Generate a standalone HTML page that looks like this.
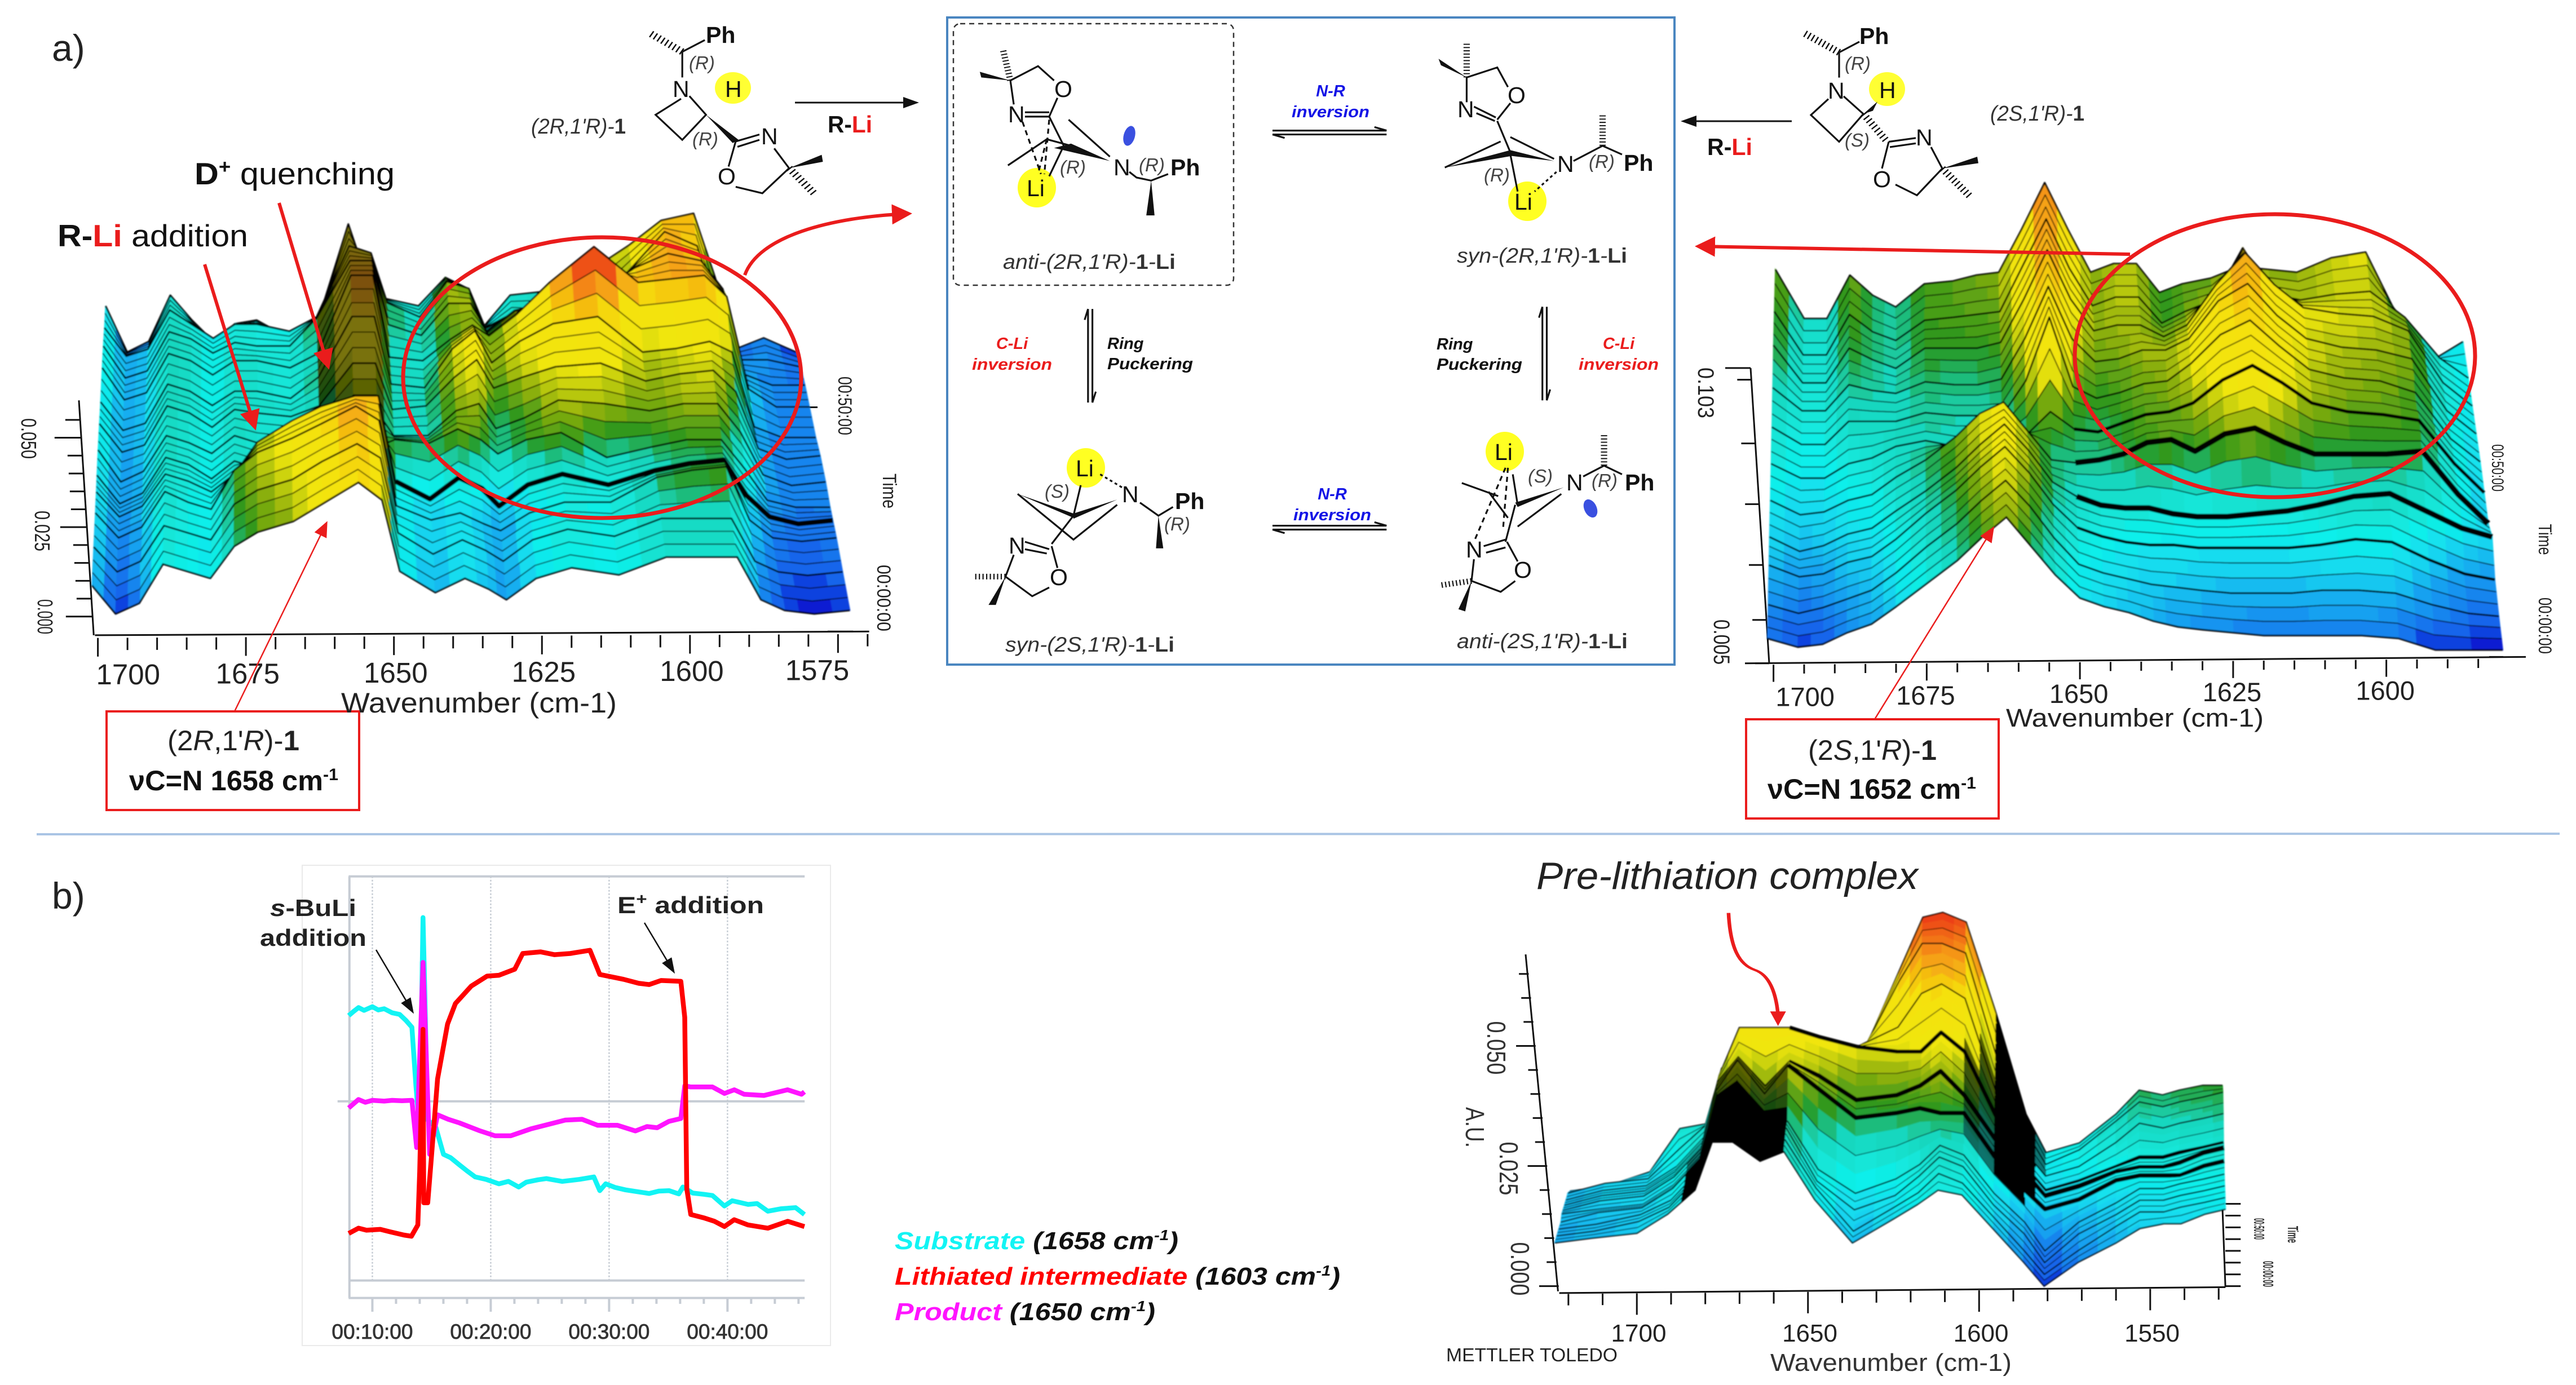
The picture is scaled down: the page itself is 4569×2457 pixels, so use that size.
<!DOCTYPE html>
<html lang="en">
<head>
<meta charset="utf-8">
<title>IR monitoring of azetidine lithiation</title>
<style>
html,body{margin:0;padding:0;background:#fff;}
svg{display:block;}
text{font-family:"Liberation Sans",sans-serif;}
.mb{fill:none;stroke:#111;stroke-width:3.2;vector-effect:non-scaling-stroke;}
.hash{fill:none;stroke:#111;stroke-width:13;stroke-dasharray:2.5 5;}
.wedge{fill:#111;stroke:none;}
.ar{font-size:41px;fill:#111;}
.ster{font-size:33px;font-style:italic;fill:#444;}
.cap{font-size:37px;font-style:italic;fill:#333;}
.tag{font-size:29px;font-weight:bold;font-style:italic;}
.lbl{font-size:54px;fill:#111;}
.tk{stroke:#111;stroke-width:3;}
</style>
</head>
<body>
<svg id="figure" xmlns="http://www.w3.org/2000/svg" width="4569" height="2457" viewBox="0 0 4569 2457">
<defs>
<filter id="soft" x="-5%" y="-5%" width="110%" height="110%"><feGaussianBlur stdDeviation="1"/></filter>
<marker id="redHead" markerWidth="7" markerHeight="7" refX="5" refY="3" orient="auto" markerUnits="strokeWidth"><path d="M0 0L6 3L0 6Z" fill="#ea1c1c"/></marker>
<marker id="thinHead" markerWidth="30" markerHeight="30" refX="24" refY="12" orient="auto" markerUnits="userSpaceOnUse"><path d="M0 0L28 12L0 24Z" fill="#ea1c1c"/></marker>
<marker id="blackHead" markerWidth="30" markerHeight="30" refX="24" refY="10" orient="auto" markerUnits="userSpaceOnUse"><path d="M0 0L28 10L0 20Z" fill="#111"/></marker>
</defs>
<rect width="4569" height="2457" fill="#fff"/>

<g id="axesA"></g>
<g id="axesB"></g>
<g id="axesC"></g>
<g id="surfaceA" filter="url(#soft)"></g>
<g id="surfaceB" filter="url(#soft)"></g>
<g id="surfaceC" filter="url(#soft)"></g>

<!-- panel labels -->
<text x="92" y="108" font-size="66" fill="#222">a)</text>
<text x="92" y="1612" font-size="66" fill="#222">b)</text>
<line x1="65" y1="1480" x2="4540" y2="1479" stroke="#a9c4e4" stroke-width="4"/>

<!-- chart A annotation -->
<text x="345" y="327" font-size="55" fill="#111" textLength="355" lengthAdjust="spacingAndGlyphs"><tspan font-weight="bold">D</tspan><tspan font-weight="bold" font-size="34" dy="-20">+</tspan><tspan dy="20"> quenching</tspan></text>
<text x="102" y="437" font-size="55" fill="#111" textLength="338" lengthAdjust="spacingAndGlyphs"><tspan font-weight="bold">R-</tspan><tspan font-weight="bold" fill="#ea1c1c">Li</tspan> addition</text>
<line x1="363" y1="469" x2="452" y2="758" stroke="#ea1c1c" stroke-width="6" marker-end="url(#redHead)"/>
<line x1="495" y1="360" x2="582" y2="650" stroke="#ea1c1c" stroke-width="6" marker-end="url(#redHead)"/>
<ellipse cx="1068" cy="670" rx="353" ry="249" fill="none" stroke="#ea1c1c" stroke-width="7"/>
<path d="M1321 488C1345 420 1470 385 1612 379" fill="none" stroke="#ea1c1c" stroke-width="6" marker-end="url(#redHead)"/>
<line x1="416" y1="1262" x2="579" y2="928" stroke="#ea1c1c" stroke-width="2.5" marker-end="url(#thinHead)"/>
<rect x="189" y="1262" width="448" height="175" fill="#fff" stroke="#ea1c1c" stroke-width="4"/>
<text x="297" y="1331" font-size="50" fill="#222" textLength="234" lengthAdjust="spacingAndGlyphs">(2<tspan font-style="italic">R</tspan>,1'<tspan font-style="italic">R</tspan>)-<tspan font-weight="bold">1</tspan></text>
<text x="229" y="1402" font-size="50" font-weight="bold" fill="#111" textLength="371" lengthAdjust="spacingAndGlyphs">νC=N 1658 cm<tspan font-size="30" dy="-18">-1</tspan></text>

<!-- chart B annotation -->
<ellipse cx="4035" cy="631" rx="355" ry="251" fill="none" stroke="#ea1c1c" stroke-width="7"/>
<line x1="3778" y1="451" x2="3012" y2="437" stroke="#ea1c1c" stroke-width="6" marker-end="url(#redHead)"/>
<line x1="3325" y1="1276" x2="3535" y2="937" stroke="#ea1c1c" stroke-width="2.5" marker-end="url(#thinHead)"/>
<rect x="3097" y="1276" width="448" height="176" fill="#fff" stroke="#ea1c1c" stroke-width="4"/>
<text x="3207" y="1348" font-size="50" fill="#222" textLength="228" lengthAdjust="spacingAndGlyphs">(2<tspan font-style="italic">S</tspan>,1'<tspan font-style="italic">R</tspan>)-<tspan font-weight="bold">1</tspan></text>
<text x="3135" y="1417" font-size="50" font-weight="bold" fill="#111" textLength="370" lengthAdjust="spacingAndGlyphs">νC=N 1652 cm<tspan font-size="30" dy="-18">-1</tspan></text>

<!-- y and time labels chart A -->
<g font-size="38" fill="#222">
<text transform="translate(38,778) rotate(90)" text-anchor="middle" textLength="72" lengthAdjust="spacingAndGlyphs">0.050</text>
<text transform="translate(62,942) rotate(90)" text-anchor="middle" textLength="72" lengthAdjust="spacingAndGlyphs">0.025</text>
<text transform="translate(67,1094) rotate(90)" text-anchor="middle" textLength="62" lengthAdjust="spacingAndGlyphs">0.000</text>
<text transform="translate(1487,720) rotate(90)" text-anchor="middle" textLength="104" lengthAdjust="spacingAndGlyphs" font-size="34">00:50:00</text>
<text transform="translate(1556,1061) rotate(90)" text-anchor="middle" textLength="118" lengthAdjust="spacingAndGlyphs" font-size="34">00:00:00</text>
<text transform="translate(1566,871) rotate(90)" text-anchor="middle" textLength="62" lengthAdjust="spacingAndGlyphs" font-size="34">Time</text>
</g>
<text x="605" y="1264" font-size="50" fill="#222" textLength="489" lengthAdjust="spacingAndGlyphs">Wavenumber (cm-1)</text>

<!-- y and time labels chart B -->
<g font-size="40" fill="#222">
<text transform="translate(3012,697) rotate(90)" text-anchor="middle" textLength="90" lengthAdjust="spacingAndGlyphs">0.103</text>
<text transform="translate(3040,1139) rotate(90)" text-anchor="middle" textLength="80" lengthAdjust="spacingAndGlyphs">0.005</text>
<text transform="translate(4420,830) rotate(90)" text-anchor="middle" textLength="84" lengthAdjust="spacingAndGlyphs" font-size="30">00:50:00</text>
<text transform="translate(4503,1110) rotate(90)" text-anchor="middle" textLength="100" lengthAdjust="spacingAndGlyphs" font-size="32">00:00:00</text>
<text transform="translate(4503,957) rotate(90)" text-anchor="middle" textLength="55" lengthAdjust="spacingAndGlyphs" font-size="32">Time</text>
</g>
<text x="3558" y="1289" font-size="45" fill="#222" textLength="457" lengthAdjust="spacingAndGlyphs">Wavenumber (cm-1)</text>

<!-- top molecules -->
<g>
<ellipse cx="1300" cy="156" rx="32" ry="28" fill="#ffff33"/>
<g transform="scale(1.0523,.947)">
<path class="mb" d="M1150 97L1188 75M1150 97V145M1148 185L1105 215L1150 262L1190 215L1162 180M1240 265L1228 312M1240 350L1285 362L1330 315L1305 278M1240 265L1280 252M1243 275L1280 262"/>
<path class="hash" d="M1150 97L1095 62M1330 315L1372 362"/>
<polygon class="wedge" points="1190,215 1245,262 1235,268"/><polygon class="wedge" points="1330,315 1385,290 1387,303"/>
</g>
<text class="ar" x="1252" y="76" font-weight="bold">Ph</text><text class="ar" x="1193" y="172">N</text><text class="ar" x="1286" y="172" fill="#111">H</text>
<text class="ar" x="1350" y="256">N</text><text class="ar" x="1273" y="327">O</text>
<text class="ster" x="1222" y="123">(R)</text><text class="ster" x="1228" y="258">(R)</text>
<text x="942" y="237" font-size="38" fill="#333" font-style="italic" textLength="168" lengthAdjust="spacingAndGlyphs">(2R,1'R)-<tspan font-weight="bold" font-style="normal">1</tspan></text>
<line x1="1410" y1="182" x2="1626" y2="182" stroke="#111" stroke-width="3" marker-end="url(#blackHead)"/>
<text x="1468" y="235" font-size="42" font-weight="bold" fill="#111" textLength="79" lengthAdjust="spacingAndGlyphs">R-<tspan fill="#ea1c1c">Li</tspan></text>
</g>
<g>
<ellipse cx="3347" cy="158" rx="32" ry="30" fill="#ffff33"/>
<g transform="translate(3000,0) scale(1,.949)">
<path class="mb" d="M262 98L298 78M262 98V145M243 185L212 215L262 265L305 213L270 180M350 265L338 315M362 345L400 365L445 315L425 275M350 265L398 258M352 275L398 268"/>
<path class="hash" d="M262 98L200 62M305 213L345 262M445 315L495 368"/>
<polygon class="wedge" points="305,213 330,190 322,207"/><polygon class="wedge" points="445,315 507,293 509,305"/>
</g>
<text class="ar" x="3298" y="78" font-weight="bold">Ph</text><text class="ar" x="3242" y="175">N</text><text class="ar" x="3333" y="174" fill="#1212dd">H</text>
<text class="ar" x="3398" y="258">N</text><text class="ar" x="3322" y="332">O</text>
<text class="ster" x="3272" y="124">(R)</text><text class="ster" x="3272" y="260">(S)</text>
<text x="3530" y="214" font-size="38" fill="#333" font-style="italic" textLength="167" lengthAdjust="spacingAndGlyphs">(2S,1'R)-<tspan font-weight="bold" font-style="normal">1</tspan></text>
<line x1="3178" y1="215" x2="2985" y2="215" stroke="#111" stroke-width="3" marker-end="url(#blackHead)"/>
<text x="3028" y="275" font-size="42" font-weight="bold" fill="#111" textLength="80" lengthAdjust="spacingAndGlyphs">R-<tspan fill="#ea1c1c">Li</tspan></text>
</g>

<!-- central scheme -->
<g>
<rect x="1680" y="31" width="1290" height="1148" fill="none" stroke="#4a86c0" stroke-width="4"/>
<rect x="1691" y="42" width="497" height="464" rx="12" fill="none" stroke="#333" stroke-width="2.5" stroke-dasharray="9 7"/>
<ellipse cx="1839" cy="333" rx="34" ry="35" fill="#ffff22"/>
<ellipse cx="2709" cy="357" rx="34" ry="35" fill="#ffff22"/>
<ellipse cx="1926" cy="830" rx="34" ry="35" fill="#ffff22"/>
<ellipse cx="2669" cy="801" rx="34" ry="35" fill="#ffff22"/>
<ellipse cx="2003" cy="241" rx="10" ry="18" fill="#3a50e0" transform="rotate(15 2003 241)"/>
<ellipse cx="2821" cy="902" rx="11" ry="17" fill="#3a50e0" transform="rotate(-25 2821 902)"/>
<g transform="translate(1650,0) scale(.861,.772)">
<path class="mb" d="M165 185L222 152L255 185M262 225L245 268M172 240L165 185M195 258H245M195 268H245M245 268L275 335M285 275L370 360M160 380L240 320L290 335M410 395L425 408L455 415L490 400M275 335L245 405"/>
<path class="mb" stroke-dasharray="9 7" d="M190 280L228 400M245 275L235 400M240 320L222 400"/>
<path class="hash" d="M165 185L150 115"/>
<polygon class="wedge" points="165,185 102,165 105,178"/><polygon class="wedge" points="255,340 370,370 290,330"/><polygon class="wedge" points="455,415 445,495 462,495"/>
<path class="mb" d="M1105 235V178L1168 155L1190 200M1195 237L1168 275M1120 245L1165 270M1125 260L1163 278M1168 278L1195 350M1060 385L1175 325M1195 315L1285 365M1195 355L1210 440M1325 370L1385 335L1425 355"/>
<path class="mb" stroke-dasharray="5 5" d="M1290 395L1245 440"/>
<path class="hash" d="M1105 178V100M1385 335V262"/>
<polygon class="wedge" points="1105,178 1047,135 1052,150"/><polygon class="wedge" points="1060,385 1195,345 1200,358"/><polygon class="wedge" points="1195,345 1285,370 1195,358"/>
<path class="mb" d="M180 1135L295 1240L385 1160M310 1115L295 1185M295 1185L250 1250M195 1245L245 1262M195 1262L240 1272M250 1255L262 1305M245 1350L210 1370L155 1325L172 1275M432 1155L470 1185L500 1165"/>
<path class="mb" stroke-dasharray="5 5" d="M350 1090L395 1120"/>
<path class="hash" d="M155 1325H90"/>
<polygon class="wedge" points="180,1135 295,1180 295,1190"/><polygon class="wedge" points="295,1180 385,1148 295,1192"/><polygon class="wedge" points="155,1325 120,1390 135,1390"/><polygon class="wedge" points="470,1185 465,1260 480,1260"/>
<path class="mb" d="M1095 1110L1170 1140M1200 1090L1210 1160M1210 1210L1300 1135M1150 1130L1190 1190M1205 1160L1185 1245M1140 1255L1185 1240M1145 1270L1185 1258M1188 1245L1210 1290M1205 1335L1175 1360L1115 1335L1120 1285M1345 1095L1388 1070L1425 1090"/>
<path class="mb" stroke-dasharray="9 7" d="M1185 1075L1120 1245M1190 1075L1180 1215"/>
<path class="hash" d="M1115 1335L1050 1345M1388 1070V995"/>
<polygon class="wedge" points="1205,1155 1305,1120 1210,1165"/><polygon class="wedge" points="1115,1335 1088,1400 1102,1405"/>
<path class="mb" d="M705 300H940M940 300L915 292M705 309H940M705 309L730 317M705 1208H940M940 1208L915 1200M705 1217H940M705 1217L730 1225M325 710V925M325 710L318 735M334 710V925M334 925L341 900M1261 705V920M1261 705L1254 730M1270 705V920M1270 920L1277 895"/>
</g>
<text class="ar" x="1788" y="217">N</text><text class="ar" x="1870" y="172">O</text><text class="ar" x="1975" y="311">N</text><text class="ar" x="2076" y="311" font-weight="bold">Ph</text>
<text class="ar" x="2585" y="208">N</text><text class="ar" x="2674" y="183">O</text><text class="ar" x="2762" y="305">N</text><text class="ar" x="2880" y="303" font-weight="bold">Ph</text>
<text class="ar" x="1990" y="891">N</text><text class="ar" x="2084" y="903" font-weight="bold">Ph</text><text class="ar" x="1789" y="982">N</text><text class="ar" x="1862" y="1038">O</text>
<text class="ar" x="2778" y="870">N</text><text class="ar" x="2882" y="870" font-weight="bold">Ph</text><text class="ar" x="2600" y="989">N</text><text class="ar" x="2685" y="1025">O</text>
<text class="ster" x="1880" y="308">(R)</text><text class="ster" x="2020" y="304">(R)</text><text class="ster" x="2818" y="298">(R)</text><text class="ster" x="2632" y="322">(R)</text>
<text class="ster" x="1853" y="883">(S)</text><text class="ster" x="2065" y="941">(R)</text><text class="ster" x="2710" y="856">(S)</text><text class="ster" x="2823" y="864">(R)</text>
<text class="ar" x="1821" y="348" fill="#ea1c1c">Li</text><text class="ar" x="2686" y="372" fill="#ea1c1c">Li</text><text class="ar" x="1908" y="845" fill="#ea1c1c">Li</text><text class="ar" x="2651" y="816" fill="#ea1c1c">Li</text>
<text class="cap" x="1779" y="477" textLength="306" lengthAdjust="spacingAndGlyphs">anti-(2R,1'R)-<tspan font-weight="bold" font-style="normal">1</tspan>-<tspan font-weight="bold" font-style="normal">Li</tspan></text>
<text class="cap" x="2584" y="466" textLength="302" lengthAdjust="spacingAndGlyphs">syn-(2R,1'R)-<tspan font-weight="bold" font-style="normal">1</tspan>-<tspan font-weight="bold" font-style="normal">Li</tspan></text>
<text class="cap" x="1783" y="1156" textLength="300" lengthAdjust="spacingAndGlyphs">syn-(2S,1'R)-<tspan font-weight="bold" font-style="normal">1</tspan>-<tspan font-weight="bold" font-style="normal">Li</tspan></text>
<text class="cap" x="2584" y="1150" textLength="303" lengthAdjust="spacingAndGlyphs">anti-(2S,1'R)-<tspan font-weight="bold" font-style="normal">1</tspan>-<tspan font-weight="bold" font-style="normal">Li</tspan></text>
<g fill="#1414e6" text-anchor="middle">
<text class="tag" x="2360" y="171">N-R</text><text class="tag" x="2360" y="208" textLength="138" lengthAdjust="spacingAndGlyphs">inversion</text>
<text class="tag" x="2363" y="886">N-R</text><text class="tag" x="2363" y="923" textLength="138" lengthAdjust="spacingAndGlyphs">inversion</text>
</g>
<g fill="#ea1c1c" text-anchor="middle">
<text class="tag" x="1795" y="619">C-Li</text><text class="tag" x="1795" y="656" textLength="142" lengthAdjust="spacingAndGlyphs">inversion</text>
<text class="tag" x="2871" y="619">C-Li</text><text class="tag" x="2871" y="656" textLength="142" lengthAdjust="spacingAndGlyphs">inversion</text>
</g>
<g fill="#111">
<text class="tag" x="1964" y="619">Ring</text><text class="tag" x="1964" y="655" textLength="152" lengthAdjust="spacingAndGlyphs">Puckering</text>
<text class="tag" x="2548" y="620">Ring</text><text class="tag" x="2548" y="656" textLength="152" lengthAdjust="spacingAndGlyphs">Puckering</text>
</g>
</g>

<!-- kinetics panel -->
<rect x="536" y="1535" width="937" height="852" fill="#fff" stroke="#eaeaea" stroke-width="2"/>
<g id="kinetics"></g>
<text x="479" y="1625" font-size="42" font-weight="bold" fill="#222" textLength="153" lengthAdjust="spacingAndGlyphs"><tspan font-style="italic">s</tspan>-BuLi</text>
<text x="461" y="1678" font-size="42" font-weight="bold" fill="#222" textLength="189" lengthAdjust="spacingAndGlyphs">addition</text>
<text x="1095" y="1620" font-size="42" font-weight="bold" fill="#222" textLength="260" lengthAdjust="spacingAndGlyphs">E<tspan font-size="28" dy="-16">+</tspan><tspan dy="16"> addition</tspan></text>
<line x1="667" y1="1685" x2="732" y2="1795" stroke="#111" stroke-width="2.5" marker-end="url(#blackHead)"/>
<line x1="1143" y1="1637" x2="1195" y2="1724" stroke="#111" stroke-width="2.5" marker-end="url(#blackHead)"/>

<!-- legend -->
<g font-size="44" font-weight="bold" font-style="italic" fill="#111">
<text x="1587" y="2216" textLength="503" lengthAdjust="spacingAndGlyphs"><tspan fill="#12f4f4">Substrate</tspan> (1658 cm<tspan font-size="26" dy="-16">-1</tspan><tspan dy="16">)</tspan></text>
<text x="1587" y="2279" textLength="790" lengthAdjust="spacingAndGlyphs"><tspan fill="#ff0000">Lithiated intermediate</tspan> (1603 cm<tspan font-size="26" dy="-16">-1</tspan><tspan dy="16">)</tspan></text>
<text x="1587" y="2342" textLength="462" lengthAdjust="spacingAndGlyphs"><tspan fill="#ff14ff">Product</tspan> (1650 cm<tspan font-size="26" dy="-16">-1</tspan><tspan dy="16">)</tspan></text>
</g>

<!-- chart C text -->
<text x="2725" y="1577" font-size="68" font-style="italic" fill="#222" textLength="677" lengthAdjust="spacingAndGlyphs">Pre-lithiation complex</text>
<g transform="translate(2500,1500) scale(1.084,.613)">
<path d="M522 195C525 300 540 345 565 360C590 375 600 430 603 490" fill="none" stroke="#ea1c1c" stroke-width="6"/>
<polygon points="590,480 616,480 603,522" fill="#ea1c1c"/>
</g>
<g font-size="46" fill="#333">
<text transform="translate(2638,1859) rotate(90)" text-anchor="middle" textLength="95" lengthAdjust="spacingAndGlyphs">0.050</text>
<text transform="translate(2660,2073) rotate(90)" text-anchor="middle" textLength="95" lengthAdjust="spacingAndGlyphs">0.025</text>
<text transform="translate(2680,2251) rotate(90)" text-anchor="middle" textLength="95" lengthAdjust="spacingAndGlyphs">0.000</text>
<text transform="translate(2600,2000) rotate(90)" text-anchor="middle" textLength="72" lengthAdjust="spacingAndGlyphs">A.U.</text>
<text transform="translate(3998,2180) rotate(90)" text-anchor="middle" textLength="38" lengthAdjust="spacingAndGlyphs" font-size="26" font-weight="bold">00:50:00</text>
<text transform="translate(4014,2260) rotate(90)" text-anchor="middle" textLength="46" lengthAdjust="spacingAndGlyphs" font-size="26" font-weight="bold">00:00:00</text>
<text transform="translate(4058,2190) rotate(90)" text-anchor="middle" textLength="30" lengthAdjust="spacingAndGlyphs" font-size="26" font-weight="bold">Time</text>
</g>
<text x="2565" y="2415" font-size="33" fill="#222" textLength="304" lengthAdjust="spacingAndGlyphs">METTLER TOLEDO</text>
<text x="3140" y="2432" font-size="44" fill="#333" textLength="428" lengthAdjust="spacingAndGlyphs">Wavenumber (cm-1)</text>
</svg>

<script>
// ---------- chart data (absorbance in mAU, time in minutes, wavenumber in cm-1) ----------
const surfaceAWavenumbers=[1701,1697,1693,1689,1685,1681,1677,1673,1667,1662,1656,1652,1649,1643,1638,1634,1631,1626,1620,1612,1604,1598,1592,1588,1584,1579,1573];
const surfaceATimes=[0,8,15,19,22,27,33,38,45,50,55,60];
const surfaceAValues=[
[8,0,3,14,12,10,19,23,26,31,37,32,12,6,10,7,4,10,13,11,16,16,16,4,1,0,1],
[9,2,5,15,13,11,21,25,28,33,38,34,13,7,11,8,5,11,14,12,17,17,17,5,2,1,2],
[10,3,6,16,13,11,22,27,31,35,40,36,12,8,10,7,5,10,13,13,20,22,23,8,3,2,3],
[11,4,7,16,14,11,16,25,31,35,38,38,14,9,15,12,7,13,16,13,17,19,20,10,4,2,3],
[12,4,7,17,15,11,16,14,13,14,20,20,22,21,25,22,18,22,24,17,20,22,22,14,5,3,3],
[13,4,7,17,15,12,17,15,14,15,24,24,17,17,24,26,19,22,27,26,24,26,26,18,6,3,4],
[13,5,7,18,16,12,17,16,15,18,30,30,17,18,26,31,23,26,29,30,25,27,28,22,6,3,4],
[13,5,7,18,16,12,16,16,14,20,37,37,18,17,28,33,24,30,35,37,27,28,30,27,6,3,3],
[14,5,7,18,16,12,16,16,14,18,40,40,17,16,22,26,23,29,38,48,38,39,40,34,8,3,3],
[14,5,7,18,16,12,15,14,14,22,38,38,20,17,26,26,18,24,26,28,36,40,38,30,6,3,3],
[13,5,7,18,14,10,14,14,12,16,36,34,20,16,26,24,13,17,16,17,30,40,36,16,4,4,2],
[13,0,3,16,9,3,8,9,4,7,36,18,15,13,21,18,7,16,17,22,30,37,39,21,1,4,0]];
const surfaceAXTicks=[1700,1675,1650,1625,1600,1575];
const surfaceAXTickLabels=['1700','1675','1650','1625','1600','1575'];
const surfaceAYTicks=[0,5,10,15,20,25,30,35,40,45,50,55];
const surfaceATimeTicks=[0,10,20,30,40,50];

const surfaceBWavenumbers=[1701,1696,1692,1688,1684,1680,1675,1670,1666,1662,1658,1654,1650,1646,1642,1638,1634,1630,1625,1620,1615,1610,1604,1598,1592,1586,1581];
const surfaceBTimes=[0,6,12,16,22,28,34,40,46,52,60];
const surfaceBValues=[
[4,1,2,6,9,15,23,31,39,46,36,26,18,15,13,10,8,7,6,5,5,5,5,4,0,0,0],
[7,4,6,9,12,18,27,35,43,50,41,30,21,18,16,14,13,12,11,11,11,12,12,11,7,4,3],
[12,8,9,13,15,21,30,38,46,53,44,33,25,22,20,19,19,18,18,18,18,19,21,20,14,9,7],
[16,11,13,17,19,25,32,40,48,55,46,35,30,27,26,26,24,23,23,24,25,27,30,31,25,19,16],
[20,15,16,20,22,28,34,42,50,54,44,34,33,34,36,40,41,37,43,45,40,36,36,36,37,22,12],
[24,19,19,24,26,30,32,30,30,30,34,42,36,35,38,41,42,45,53,58,52,45,42,41,39,24,14],
[28,22,22,30,30,30,33,32,32,32,44,66,42,38,40,43,44,50,60,65,56,48,45,44,40,24,16],
[33,25,25,34,32,31,35,34,34,36,50,68,50,42,43,46,46,50,63,69,58,50,47,46,43,25,17],
[39,26,26,38,34,31,38,38,38,40,55,72,55,44,46,46,42,46,60,71,60,52,50,49,44,26,18],
[42,27,27,41,35,32,39,40,41,42,58,74,57,44,47,47,38,42,46,64,48,46,48,49,40,26,19],
[45,28,28,43,36,32,40,41,43,44,59,75,59,44,47,47,37,40,42,46,45,44,49,51,27,14,20]];
const surfaceBXTicks=[1700,1675,1650,1625,1600];
const surfaceBXTickLabels=['1700','1675','1650','1625','1600'];
const surfaceBYTicks=[103,81,60,39,20,5];
const surfaceBTimeTicks=[0,10,20,30,40,50,60];

const surfaceCWavenumbers=[1724,1713,1700,1691,1683,1678,1672,1664,1657,1648,1637,1625,1618,1612,1605,1596,1587,1581,1571,1560,1553,1546,1541,1534,1528];
const surfaceCTimes=[0,8,16,24,28,32,38,44,52,60];
const surfaceCValues=[
[9,10,11,15,20,30,30,26,28,18,9,14,17,20,19,12,5,0,5,9,12,13,13,15,16],
[9,10,12,15,21,31,34,29,29,19,10,15,18,22,20,13,6,1,6,11,14,14,15,16,17],
[9,10,12,15,21,33,36,30,30,19,13,16,20,24,22,14,8,2,8,12,15,15,16,17,18],
[9,11,12,16,22,35,37,31,30,20,15,18,21,25,23,15,9,3,9,13,16,16,17,18,19],
[10,11,12,16,22,36,42,35,41,36,30,31,32,31,31,22,15,11,13,17,18,18,18,20,21],
[10,12,13,17,23,37,42,36,41,38,33,34,36,39,34,25,18,13,15,18,19,19,20,22,23],
[10,12,13,17,23,37,47,47,47,45,43,42,42,46,42,29,18,13,15,18,20,20,21,22,23],
[10,12,13,17,23,36,42,40,40,40,42,46,53,55,52,33,20,15,17,22,26,25,26,27,28],
[10,12,13,19,24,36,40,38,38,38,38,54,62,62,60,39,23,16,19,25,29,28,29,30,31],
[9,10,13,22,23,32,38,36,36,36,36,55,66,67,65,46,25,17,19,25,30,29,30,31,31]];
const surfaceCXTicks=[1700,1650,1600,1550];
const surfaceCXTickLabels=['1700','1650','1600','1550'];
const surfaceCYTicks=[0,5,10,15,20,25,30,35,40,45,50,55,60,65];
const surfaceCTimeTicks=[0,5,10,15,20,25,30,35];

const kineticsTickMinutes=[10,20,30,40];
const kineticsTickLabels=['00:10:00','00:20:00','00:30:00','00:40:00'];
const substrateTimes=[8,8.4,8.83,9.3,10,10.5,11,11.67,12.3,12.84,13.34,13.68,14.0,14.28,14.68,15.35,16.01,16.6,17.35,18,18.69,19.6,20.69,21.5,22.36,23,24,24.7,26.04,27.5,28.71,29.21,29.71,30.5,31.38,32.5,33.39,34.2,35.06,35.89,36.23,37.06,38,38.73,39.74,40.4,41,41.74,42.5,43.41,44.5,45.75,46.5];
const substrateValues=[65.5,66.5,67.5,66.8,67.7,66.9,67.2,66.2,65.8,64.3,62.6,48.1,37,89.8,39.6,37.9,31.1,30.3,28.5,27,25.5,24.9,23.8,24.4,23,24.2,24.8,25.1,24.4,24.9,25.5,22.1,23.8,22.9,22.3,21.8,21.4,22,22.1,21.3,23,21.5,21.2,20.9,18.3,19.6,19.2,18.7,18.9,17,17.6,17.9,16.2];
const productTimes=[8,8.83,9.4,10,11,11.67,12.5,13.34,13.74,14.28,14.84,15.51,16.4,17.35,19.02,20.36,21.69,23.36,25.37,26.3,27.71,29.04,30.71,32.22,33.2,34.06,35.06,36.06,36.39,36.9,38.73,39.74,40.57,41.41,43.08,45.08,46.25,46.5];
const productValues=[42.6,44.7,44,44.5,44.3,44.5,44.4,44.5,32.8,78.7,31.1,40.9,39.8,38.9,37,35.7,35.7,37.4,38.9,39.6,39.8,38.3,38.3,36.9,38,37.7,39.3,40,48.1,47.8,47.8,46.2,47.1,46,45.7,47.1,46,46.6];
const intermediateTimes=[8,8.83,9.5,10.67,11.5,12.67,13.3,13.84,14,14.28,14.34,14.68,15.01,15.51,16.35,17.02,18.35,19.69,20.69,22.03,22.7,24.2,25.37,26.71,28.38,29.21,31.22,32.5,33.39,34.39,36.06,36.39,36.56,36.9,38.07,38.9,39.74,40.57,41.74,43.41,45.08,46.5];
const intermediateValues=[11.5,12.8,12.3,12.5,11.9,11.1,10.8,13.6,26.8,62.1,19.1,19.1,31.1,49.8,63.4,68.5,72.8,75.3,75.5,77,80.9,81.3,80.6,80.9,81.7,75.7,74.5,73.5,73.2,74.2,74,65.1,22.6,16.2,15.3,14.5,13.2,14.9,13.6,12.8,14.5,13.2];

// ---------- rendering ----------
const NS='http://www.w3.org/2000/svg';
const lerp=(a,b,f)=>a+(b-a)*f;
const colorStops=[[0,10,30,210],[.03,20,100,235],[.08,25,150,240],[.16,20,215,240],[.22,15,240,235],[.33,25,215,190],[.4,40,150,30],[.47,140,175,10],[.54,240,230,15],[.66,245,225,15],[.76,245,140,20],[.84,235,50,20],[1,210,10,10]];
function colorOf(u,dark){
  u=Math.max(0,Math.min(1,Math.round(u*64)/64));
  let k=0;
  while(k<colorStops.length-2&&u>colorStops[k+1][0])k++;
  const p=colorStops[k],q=colorStops[k+1],f=(u-p[0])/(q[0]-p[0]);
  const d=1-Math.round((dark||0)*4)/4;
  return 'rgb('+[1,2,3].map(c=>Math.round(lerp(p[c],q[c],f)*d)).join(',')+')';
}
function drawSurface(cfg){
  const g=document.getElementById(cfg.id),wns=cfg.wns,times=cfg.times,vals=cfg.vals;
  const sub=cfg.sub||4,subx=2,every=cfg.every||1;
  const val=(i,fi,j,fj)=>lerp(lerp(vals[i][j],vals[i][j+1],fj),lerp(vals[i+1][j],vals[i+1][j+1],fj),fi);
  const pt=(i,fi,j,fj)=>{
    const wn=lerp(wns[j],wns[j+1],fj),t=lerp(times[i],times[i+1],fi),a=val(i,fi,j,fj);
    return [cfg.X(wn,t),cfg.Y(a,t),a,wn,t];
  };
  const addLine=(i,f,w,range)=>{
    let d='',started=false;
    for(let j=0;j<wns.length;j++){
      if(range&&wns[j]>range[0])continue;
      const p=j<wns.length-1?pt(i,f,j,0):pt(i,f,j-1,1);
      d+=(started?'L':'M')+p[0].toFixed(1)+' '+p[1].toFixed(1);
      started=true;
    }
    const line=document.createElementNS(NS,'path');
    line.setAttribute('d',d);
    line.setAttribute('fill','none');
    line.setAttribute('stroke','#050505');
    line.setAttribute('stroke-width',w);
    line.setAttribute('stroke-linejoin','round');
    
    
    g.appendChild(line);
  };
  for(let i=times.length-2;i>=0;i--){
    for(let s=sub-1;s>=0;s--){
      const f0=s/sub,f1=(s+1)/sub,buckets={};
      for(let j=0;j<wns.length-1;j++){
        for(let m=0;m<subx;m++){
          const a=pt(i,f0,j,m/subx),b=pt(i,f0,j,(m+1)/subx),c=pt(i,f1,j,(m+1)/subx),e=pt(i,f1,j,m/subx);
          const mean=(a[2]+b[2]+c[2]+e[2])/4;
          const dark=cfg.shade?cfg.shade((a[3]+b[3])/2,(a[4]+e[4])/2,mean):0;
          const col=colorOf(mean/cfg.scale,dark);
          buckets[col]=(buckets[col]||'')+'M'+[a,b,c,e].map(p=>p[0].toFixed(1)+' '+p[1].toFixed(1)).join('L')+'Z';
        }
      }
      for(const col in buckets){
        const cell=document.createElementNS(NS,'path');
        cell.setAttribute('d',buckets[col]);
        cell.setAttribute('fill',col);
        cell.setAttribute('stroke',col);
        cell.setAttribute('stroke-width','1.6');
        
        
        g.appendChild(cell);
      }
      if(s===sub-1){
        addLine(i,1,cfg.base||3);
        if(cfg.thick[i+1])addLine(i,1,cfg.thick[i+1],cfg.thickRange);
      }else if((s+1)%every===0){
        addLine(i,f1,cfg.mesh||1.8);
      }
    }
  }
  addLine(0,0,cfg.base||3);
}
function tickLine(g,x1,y1,x2,y2,name){
  const l=document.createElementNS(NS,'line');
  l.setAttribute('x1',x1);l.setAttribute('y1',y1);l.setAttribute('x2',x2);l.setAttribute('y2',y2);
  l.setAttribute('class','tk');
  
  
  g.appendChild(l);
}
function tickText(g,x,y,str,size){
  const t=document.createElementNS(NS,'text');
  t.setAttribute('x',x);t.setAttribute('y',y);t.setAttribute('font-size',size);
  t.setAttribute('text-anchor','middle');t.setAttribute('fill','#222');
  t.textContent=str;
  
  
  g.appendChild(t);
}

// Chart A scales (defined in reference-crop coordinates)
const ASX=1.0523,ASY=.947;
const aFront=wn=>155+(1701-wn)*9.98;
const aX=(wn,t)=>ASX*lerp(aFront(wn),178+.911*(aFront(wn)-155),t/60);
const aY=(a,t)=>ASY*(1150-8.17*t-a/.15);
const aShade=(wn,t)=>(wn<1662&&wn>1650&&t>24)?.5:0;
drawSurface({id:'surfaceA',wns:surfaceAWavenumbers,times:surfaceATimes,vals:surfaceAValues,X:aX,Y:aY,scale:54,sub:3,thick:{3:9},thickRange:[1650,1600],shade:aShade});

// Chart B scales
const bFront=wn=>138+(1700.7-wn)*10.87;
const bX=(wn,t)=>3000+lerp(bFront(wn),152+.935*(bFront(wn)-138),t/60);
const bY=(a,t)=>.949*(1215-7.8*t-a*5.405);
drawSurface({id:'surfaceB',wns:surfaceBWavenumbers,times:surfaceBTimes,vals:surfaceBValues,X:bX,Y:bY,scale:95,sub:3,thick:{2:5,3:10,4:10,5:6},thickRange:[1650,1500]});

// Chart C scales
const cFront=wn=>372+(1700-wn)*5.6;
const cX=(wn,t)=>{const x=cFront(wn),f=(x-240)/1095;return 2500+1.084*(x+(25-30*f)*t/60);};
const cY=(a,t)=>1500+.613*(1275-2.5*t-a*13.9);
const cShade=(wn,t,a)=>{
  if(wn<1686&&wn>1658){if(t<25)return 1;if(t<32)return .5;}
  if(wn<1598&&wn>1584&&t>26&&a>14&&a<44)return .95;
  if(wn<1604&&wn>1580&&t>26&&a>16&&a<40)return .5;
  return 0;
};
drawSurface({id:'surfaceC',wns:surfaceCWavenumbers,times:surfaceCTimes,vals:surfaceCValues,X:cX,Y:cY,scale:80,sub:4,every:2,mesh:1.4,base:2.4,thick:{4:8,5:8,6:7},thickRange:[1660,1500],shade:cShade});

// Axes chart A
(function(){
  const g=document.getElementById('axesA');
  const line=(zx1,zy1,zx2,zy2,n)=>tickLine(g,ASX*zx1,ASY*zy1,ASX*zx2,ASY*zy2,n);
  const baseY=zx=>1190-7*(zx-160)/1260;
  line(160,1190,1465,1183,'x-axis-line');
  line(133,750,158,1190,'y-axis-line');
  for(let wn=1700;wn>=1570;wn-=5){
    const zx=aFront(wn);
    line(zx,baseY(zx)+5,zx,baseY(zx)+(surfaceAXTicks.includes(wn)?40:28),'x-tick');
  }
  surfaceAXTicks.forEach((wn,i)=>{
    const zx=aFront(wn),nudge=i===0?51:(i===surfaceAXTicks.length-1?-35:3);
    tickText(g,ASX*(zx+nudge),ASY*(1282-8*i/5),surfaceAXTickLabels[i],51);
  });
  surfaceAYTicks.forEach(v=>{
    const zy=1155-6.7*v,ax=133+(zy-750)/440*25;
    line(ax-(v%25===0?45:25),zy,ax,zy,'y-tick');
  });
  surfaceATimeTicks.forEach(t=>{
    const zy=1183-8.4*t,zx=1420-1.2*t;
    line(zx-25,zy,zx+(t%50===0?18:0),zy,'time-tick');
  });
})();

// Axes chart B
(function(){
  const g=document.getElementById('axesB');
  const line=(zx1,zy1,zx2,zy2,n)=>tickLine(g,3000+zx1,.949*zy1,3000+zx2,.949*zy2,n);
  const baseY=zx=>1240-12*(zx-95)/1385;
  line(95,1240,1480,1228,'x-axis-line');
  line(105,688,138,1240,'y-axis-line');
  line(60,688,105,688,'y-axis-cap');
  for(let wn=1700;wn>=1582;wn-=5){
    const zx=bFront(wn);
    line(zx,baseY(zx)+3,zx,baseY(zx)+(surfaceBXTicks.includes(wn)?35:20),'x-tick');
  }
  surfaceBXTicks.forEach((wn,i)=>{
    const zx=bFront(wn),nudge=i===0?56:-2;
    tickText(g,3000+zx+nudge,.949*(1320-3*i),surfaceBXTickLabels[i],47);
  });
  surfaceBYTicks.forEach(v=>{
    const zy=1240-(v-5)*5.41,ax=105+(zy-688)/552*33;
    line(ax-25,zy,ax,zy,'y-tick');
  });
  surfaceBTimeTicks.forEach(t=>{
    const zy=1228-7.6*t,zx=1435-1.1*t;
    line(zx-20,zy,zx+5,zy,'time-tick');
  });
})();

// Axes chart C
(function(){
  const g=document.getElementById('axesC');
  const line=(zx1,zy1,zx2,zy2,n)=>tickLine(g,2500+1.084*zx1,1500+.613*zy1,2500+1.084*zx2,1500+.613*zy2,n);
  const baseY=zx=>1295-17*(zx-245)/1090;
  line(245,1295,1335,1278,'x-axis-line');
  line(190,315,243,1290,'y-axis-line');
  line(1330,1040,1335,1278,'time-axis-line');
  for(let wn=1720;wn>=1530;wn-=10){
    const zx=cFront(wn);
    line(zx,baseY(zx)+3,zx,baseY(zx)+(surfaceCXTicks.includes(wn)?65:36),'x-tick');
  }
  surfaceCXTicks.forEach((wn,i)=>{
    tickText(g,2500+1.084*(cFront(wn)+3),2380,surfaceCXTickLabels[i],44);
  });
  surfaceCYTicks.forEach(v=>{
    const zy=1275-13.9*v,ax=190+(zy-315)/975*53;
    line(ax-(v%25===0?30:14),zy,ax+2,zy,'y-tick');
  });
  surfaceCTimeTicks.forEach(t=>{
    const zy=1275-6.8*t;
    line(1335,zy,1360,zy,'time-tick');
  });
})();

// Kinetics chart
(function(){
  const g=document.getElementById('kinetics');
  const kx=t=>450+.7015*(300+(t-10)*29.93);
  const ky=v=>1500+.609*(1265-v*11.75);
  const zy=z=>1500+.609*z,zx=z=>450+.7015*z;
  const rule=(x1,y1,x2,y2,name,dash)=>{
    const l=document.createElementNS(NS,'line');
    l.setAttribute('x1',x1);l.setAttribute('y1',y1);l.setAttribute('x2',x2);l.setAttribute('y2',y2);
    l.setAttribute('stroke','#c6ccd4');
    l.setAttribute('stroke-width',dash?2.5:4);
    if(dash)l.setAttribute('stroke-dasharray','3 3');
    
    
    g.appendChild(l);
  };
  rule(zx(240),zy(90),zx(1393),zy(90),'plot-top-rule');
  rule(zx(242),zy(90),zx(242),zy(1318),'plot-left-rule');
  rule(zx(240),zy(1267),zx(1393),zy(1267),'plot-bottom-rule');
  rule(zx(240),zy(1318),zx(1393),zy(1318),'time-strip-rule');
  rule(zx(212),zy(745),zx(1393),zy(745),'plot-mid-rule');
  kineticsTickMinutes.forEach((t,i)=>{
    rule(kx(t),zy(90),kx(t),zy(1267),'time-gridline',true);
    rule(kx(t),zy(1318),kx(t),zy(1358),'time-major-tick');
    const label=document.createElementNS(NS,'text');
    label.setAttribute('x',kx(t));
    label.setAttribute('y',2375);
    label.setAttribute('font-size',37);
    label.setAttribute('text-anchor','middle');
    label.setAttribute('fill','#333');
    label.setAttribute('stroke','#333');
    label.setAttribute('stroke-width','.8');
    label.textContent=kineticsTickLabels[i];
    
    
    g.appendChild(label);
  });
  for(let t=10;t<=46;t+=2){
    if(t%10)rule(kx(t),zy(1318),kx(t),zy(1335),'time-minor-tick');
  }
  const series=(times,values,color,name)=>{
    let d='';
    times.forEach((t,i)=>{d+=(i?'L':'M')+kx(t).toFixed(1)+' '+ky(values[i]).toFixed(1);});
    const p=document.createElementNS(NS,'path');
    p.setAttribute('d',d);
    p.setAttribute('fill','none');
    p.setAttribute('stroke',color);
    p.setAttribute('stroke-width','8.5');
    p.setAttribute('stroke-linejoin','round');
    
    
    g.appendChild(p);
  };
  series(substrateTimes,substrateValues,'#12f4f4','series-substrate');
  series(productTimes,productValues,'#ff14ff','series-product');
  series(intermediateTimes,intermediateValues,'#ff0000','series-lithiated-intermediate');
})();
</script>
</body>
</html>
